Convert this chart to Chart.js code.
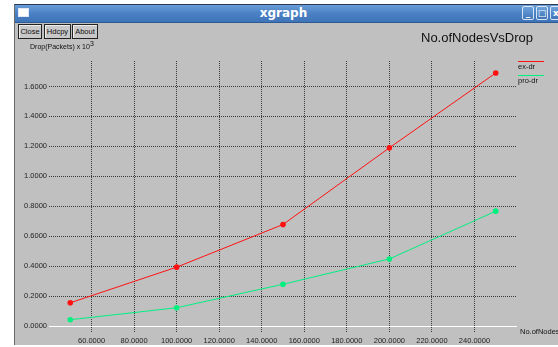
<!DOCTYPE html>
<html>
<head>
<meta charset="utf-8">
<script src="https://cdn.jsdelivr.net/npm/chart.js@4/dist/chart.umd.min.js"></script>
<style>
  html,body{margin:0;padding:0;}
  body{width:558px;height:347px;background:#ffffff;position:relative;overflow:hidden;font-family:"Liberation Sans",Arial,sans-serif;}
  #win{position:absolute;left:14px;top:4px;width:548px;height:341px;background:#c0c0c0;border-left:1px solid #6a6a6a;border-top:1px solid #2a3a55;box-sizing:border-box;}
  #tb{position:absolute;left:0;top:0;right:0;height:17px;background:linear-gradient(#6a9ed8,#4a80c4 50%,#3f74b8);border-bottom:1px solid #2d5a94;}
  #tb .ic{position:absolute;left:3px;top:3px;width:11px;height:9px;background:#fff;border:1px solid #dfe8f4;box-sizing:border-box;}
  #tb .t{position:absolute;left:0;right:10px;top:1px;text-align:center;color:#fff;font:bold 12px "DejaVu Sans",sans-serif;line-height:15px;}
  .wb{position:absolute;top:1px;width:12px;height:14px;border:1px solid #dbe6f5;border-radius:2px;box-sizing:border-box;background:linear-gradient(#6fa3dc,#3f74b8);color:#fff;font:bold 9px "DejaVu Sans",sans-serif;text-align:center;line-height:12px;}
  .btn{position:absolute;top:19px;height:15px;border:1px solid #222;box-sizing:border-box;background:#c8c8c8;font:7.5px "Liberation Sans",sans-serif;color:#111;text-align:center;line-height:13px;box-shadow:inset 1px 1px 0 #eee;}
  #c{position:absolute;left:0;top:0;}
</style>
</head>
<body>
<div id="win">
  <div id="tb"><div class="ic"></div><div class="t">xgraph</div>
    <div class="wb" style="left:507px">_</div>
    <div class="wb" style="left:521px">□</div>
    <div class="wb" style="left:535px">x</div>
  </div>
  <div class="btn" style="left:3px;width:24px">Close</div>
  <div class="btn" style="left:29px;width:27px">Hdcpy</div>
  <div class="btn" style="left:57px;width:26px">About</div>
</div>
<canvas id="c" width="558" height="347"></canvas>
<script>
const titleText = "No.ofNodesVsDrop";
const yAxisTitle = "Drop(Packets) x 10";
const yAxisExp = "3";
const xAxisTitle = "No.ofNodes";
const seriesNames = ["ex-dr", "pro-dr"];
const categories = [50, 100, 150, 200, 250];
const exDr = [0.155, 0.393, 0.678, 1.19, 1.69];
const proDr = [0.042, 0.122, 0.279, 0.448, 0.767];
const xTicks = [60, 80, 100, 120, 140, 160, 180, 200, 220, 240];
const yTicks = [0, 0.2, 0.4, 0.6, 0.8, 1.0, 1.2, 1.4, 1.6];

const colors = ["#ff1010", "#00f080"];
const gridColor = "#3a3a3a";
const labelFont = {family: '"Liberation Sans", Arial, sans-serif', size: 7.5};

const toPts = arr => categories.map((x, i) => ({x: x, y: arr[i]}));

const xgText = {
  id: 'xgText',
  afterDraw(chart) {
    const c = chart.ctx, a = chart.chartArea;
    c.save();
    c.setLineDash([]);
    c.globalAlpha = 1;
    c.fillStyle = '#111';
    c.textAlign = 'left';
    c.textBaseline = 'alphabetic';
    c.font = '13px "Liberation Sans", Arial, sans-serif';
    c.fillText(titleText, 421, 42);
    c.font = '7px "Liberation Sans", Arial, sans-serif';
    c.fillText(yAxisTitle, 30, 49);
    const w = c.measureText(yAxisTitle).width;
    c.fillText(yAxisExp, 30 + w, 46);
    c.font = '7.5px "Liberation Sans", Arial, sans-serif';
    c.textBaseline = 'middle';
    c.fillText(xAxisTitle, a.right + 3, a.bottom);
    // legend
    chart.data.datasets.forEach((ds, i) => {
      const y = Math.round(a.top) + i * 14;
      const x0 = Math.round(a.right) + 1;
      c.fillStyle = colors[i];
      c.fillRect(x0, y, 26, 1);
      c.fillStyle = '#111';
      c.fillText(seriesNames[i], x0, y + 5.5);
    });
    c.restore();
  }
};

new Chart(document.getElementById('c'), {
  type: 'line',
  data: {
    datasets: [
      {label: seriesNames[0], data: toPts(exDr), borderColor: colors[0], backgroundColor: colors[0],
       borderWidth: 1, pointRadius: 2.8, pointBorderWidth: 0, tension: 0},
      {label: seriesNames[1], data: toPts(proDr), borderColor: colors[1], backgroundColor: colors[1],
       borderWidth: 1, pointRadius: 2.8, pointBorderWidth: 0, tension: 0}
    ]
  },
  options: {
    responsive: false,
    animation: false,
    devicePixelRatio: 1,
    layout: {padding: {left: 0, top: 61, right: 41, bottom: 0}},
    plugins: {legend: {display: false}, tooltip: {enabled: false}, title: {display: false}},
    scales: {
      x: {
        type: 'linear', min: 40, max: 260,
        afterBuildTicks: s => { s.ticks = xTicks.map(v => ({value: v})); },
        afterFit: s => { s.height = 15; },
        ticks: {callback: v => Number(v).toFixed(4), font: labelFont, color: '#222', padding: 4, maxRotation: 0, autoSkip: false},
        grid: {color: gridColor, lineWidth: 1, drawTicks: false},
        border: {display: false, dash: [1, 1]}
      },
      y: {
        type: 'linear', min: -0.04, max: 1.77,
        afterBuildTicks: s => { s.ticks = yTicks.map(v => ({value: v})); },
        afterFit: s => { s.width = 49; },
        ticks: {callback: v => Number(v).toFixed(4), font: labelFont, color: '#222', padding: 2, autoSkip: false},
        grid: {color: ctx => (ctx.tick && ctx.tick.value === 0) ? '#ffffff' : gridColor, lineWidth: 1, drawTicks: false},
        border: {display: false, dash: ctx => (ctx.tick && ctx.tick.value === 0) ? [] : [1, 1]}
      }
    }
  },
  plugins: [xgText]
});
</script>
</body>
</html>
